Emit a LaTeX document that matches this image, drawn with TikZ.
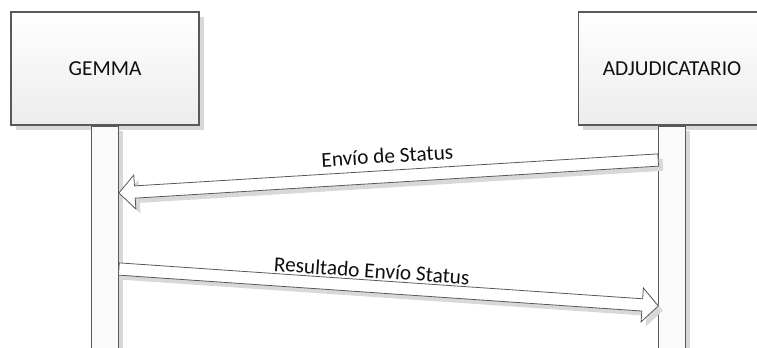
\documentclass[tikz,border=0pt]{standalone}
\usepackage{fontspec}
\setmainfont{Carlito}
\usepackage{xcolor}
\definecolor{sqLine}{RGB}{89,89,89}
\definecolor{sqShadow}{RGB}{216,216,216}
\definecolor{sqFillTop}{RGB}{255,255,255}
\definecolor{sqFillBot}{RGB}{236,236,236}
\definecolor{sqBar}{RGB}{250,250,250}
\definecolor{sqText}{RGB}{15,15,15}
\usetikzlibrary{arrows.meta,positioning,calc,shadows}

\begin{document}
\begin{tikzpicture}[x=0.75pt, y=-0.75pt,
    sqshadow/.style={drop shadow={shadow xshift=3.5pt, shadow yshift=-3.5pt,
      fill=sqShadow, opacity=1}},
    actor/.style={draw=sqLine, line width=0.8pt, top color=sqFillTop,
      bottom color=sqFillBot, minimum width=141pt, minimum height=84.75pt,
      inner sep=0pt, text=sqText, font=\fontsize{16}{19}\selectfont, sqshadow},
    lifeline/.style={draw=sqLine, line width=0.8pt, fill=sqBar,
      minimum width=20pt, minimum height=180pt, inner sep=0pt, sqshadow},
    message/.style={draw=sqLine, line width=0.6pt, fill=white, sqshadow},
    msglabel/.style={font=\fontsize{16}{19}\selectfont, text=sqText,
      sloped, inner sep=0pt},
    node distance=0pt and 283.5pt
  ]
    \useasboundingbox (0,0) rectangle (757,347);
    \clip (0,0) rectangle (757,347);

    \node[actor] (gemma) at (105,68.5) {GEMMA};
    \node[actor, right=of gemma] (adj) {ADJUDICATARIO};

    \node[lifeline, below=of gemma] (gemmaline) {};
    \node[lifeline, below=of adj] (adjline) {};

    % message end points on the lifelines
    \coordinate (m1s) at (adjline.west |- 0,160);
    \coordinate (m1e) at (gemmaline.east |- 0,193);
    \coordinate (m1h) at ($(m1e)!12pt!(m1s)$);
    \coordinate (m2s) at (gemmaline.east |- 0,269);
    \coordinate (m2e) at (adjline.west |- 0,306);
    \coordinate (m2h) at ($(m2e)!12pt!(m2s)$);

    \draw[message] ($(m1s)!4.6pt!90:(m1e)$) -- ($(m1h)!4.6pt!90:(m1e)$)
      -- ($(m1h)!12.75pt!90:(m1e)$) -- (m1e) -- ($(m1h)!12.75pt!-90:(m1e)$)
      -- ($(m1h)!4.6pt!-90:(m1e)$) -- ($(m1s)!4.6pt!-90:(m1e)$) -- cycle;
    \draw[message] ($(m2s)!4.6pt!90:(m2e)$) -- ($(m2h)!4.6pt!90:(m2e)$)
      -- ($(m2h)!12.75pt!90:(m2e)$) -- (m2e) -- ($(m2h)!12.75pt!-90:(m2e)$)
      -- ($(m2h)!4.6pt!-90:(m2e)$) -- ($(m2s)!4.6pt!-90:(m2e)$) -- cycle;

    \path (m1e) -- (m1s) node[msglabel, midway, above=9.75pt] (lab1) {Envío de Status};
    \path (m2s) -- (m2e) node[msglabel, pos=0.467, above=6pt] (lab2) {Resultado Envío Status};
  \end{tikzpicture}
\end{document}
